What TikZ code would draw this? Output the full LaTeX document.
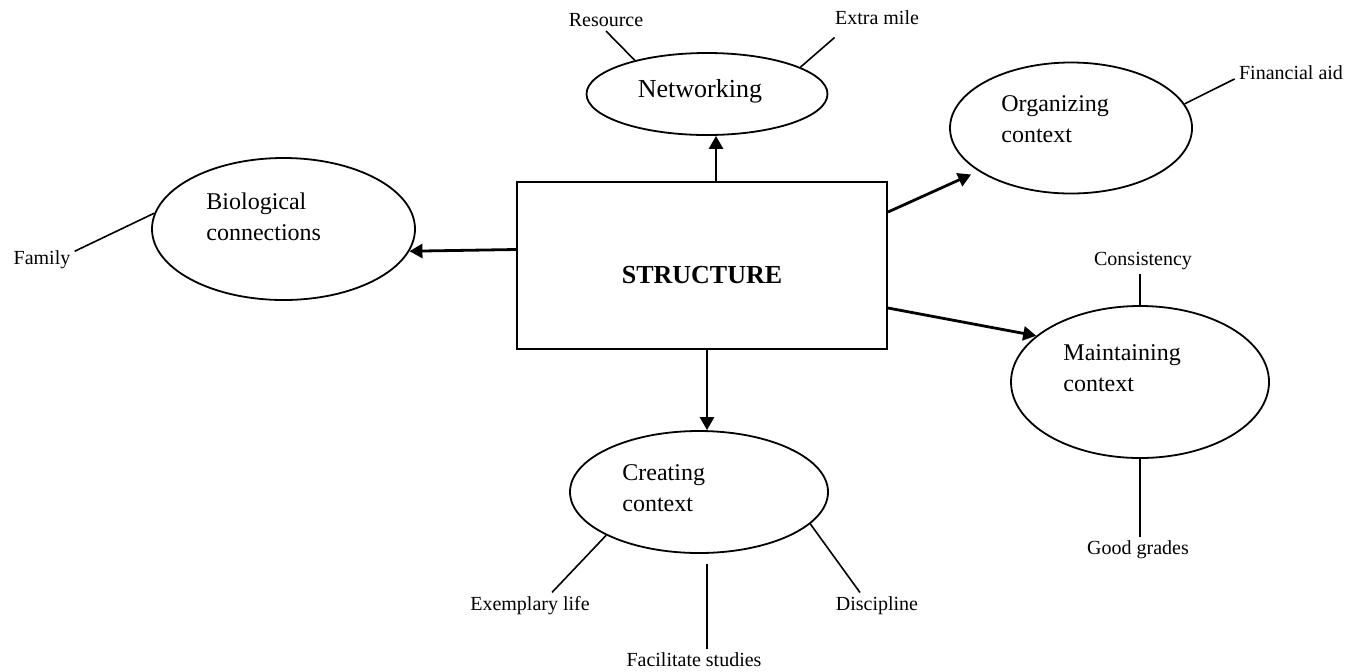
\documentclass[tikz,border=0pt]{standalone}
\usepackage{fontspec}
\setmainfont{Liberation Serif}
\usetikzlibrary{shapes.geometric,arrows.meta}

\begin{document}
\begin{tikzpicture}[x=0.5pt,y=-0.5pt,
	bubble/.style={draw, ellipse, line width=0.9pt, inner sep=0pt},
	ctx/.style={align=left, inner sep=0pt, anchor=west, font=\fontsize{12}{15.5}\selectfont},
	tag/.style={inner sep=2pt, font=\fontsize{10}{12}\selectfont},
	arr/.style={line width=1.4pt, -{Triangle[length=6.5pt,width=7pt]}},
	spoke/.style={line width=0.8pt}]

	\useasboundingbox (0,0) rectangle (1364,671);

	% central box
	\node[draw, line width=1pt, minimum width=185pt, minimum height=83.5pt,
		text height=18.3pt, text depth=0pt,
		font=\fontsize{13}{15}\selectfont\bfseries] (str) at (702,265.5) {STRUCTURE};

	% ellipses
	\node[bubble, minimum width=120.5pt, minimum height=41pt] (net) at (707,94) {};
	\node[bubble, minimum width=121pt, minimum height=65.5pt] (org) at (1071,128) {};
	\node[bubble, minimum width=131.5pt, minimum height=71pt] (bio) at (283.5,229) {};
	\node[bubble, minimum width=129pt, minimum height=76pt] (mai) at (1140,382) {};
	\node[bubble, minimum width=129pt, minimum height=61pt] (cre) at (699,492) {};

	% ellipse texts
	\node[font=\fontsize{13}{15}\selectfont, inner sep=0pt] (nettxt) at (700,91) {Networking};
	\node[ctx] (orgtxt) at (1001,119) {Organizing\\context};
	\node[ctx] (biotxt) at (206,217) {Biological\\connections};
	\node[ctx] (maitxt) at (1063,368) {Maintaining\\context};
	\node[ctx] (cretxt) at (622,488) {Creating\\context};

	% outer labels
	\node[tag] (res) at (606,20) {Resource};
	\node[tag] (ext) at (877,18) {Extra mile};
	\node[tag] (fin) at (1291,73) {Financial aid};
	\node[tag] (fam) at (42,260) {Family};
	\node[tag] (con) at (1143,261) {Consistency};
	\node[tag] (goo) at (1138,550) {Good grades};
	\node[tag] (exe) at (530,606) {Exemplary life};
	\node[tag] (fac) at (694,660) {Facilitate studies};
	\node[tag] (dis) at (877,606) {Discipline};

	% arrows from the box
	\draw[arr] ([xshift=7pt]str.north) -- ([xshift=4.5pt]net.south);
	\draw[arr, shorten >=4pt] ([yshift=-15.5pt]str.north east) -- (org.205);
	\draw[arr] ([yshift=8pt]str.west) -- (bio.-10);
	\draw[arr] ([yshift=21pt]str.south east) -- (mai.156);
	\draw[arr] ([xshift=2.5pt]str.south) -- ([xshift=4pt]cre.north);

	% spokes
	\draw[spoke] (res.south) -- (net.155);
	\draw[spoke] ([shift={(2pt,-4pt)}]ext.south west) -- (net.16);
	\draw[spoke] (fin.186) -- (org.12);
	\draw[spoke] (fam.15) -- (bio.173);
	\draw[spoke] (con.south -| mai.north) -- (mai.north);
	\draw[spoke] (goo.north -| mai.south) -- (mai.south);
	\draw[spoke] ([xshift=11pt]exe.north) -- (cre.205);
	\draw[spoke] ([xshift=6.5pt]fac.north) -- ([shift={(4pt,-5pt)}]cre.south);
	\draw[spoke] ([xshift=-8.5pt]dis.north) -- (cre.-16);

\end{tikzpicture}
\end{document}
